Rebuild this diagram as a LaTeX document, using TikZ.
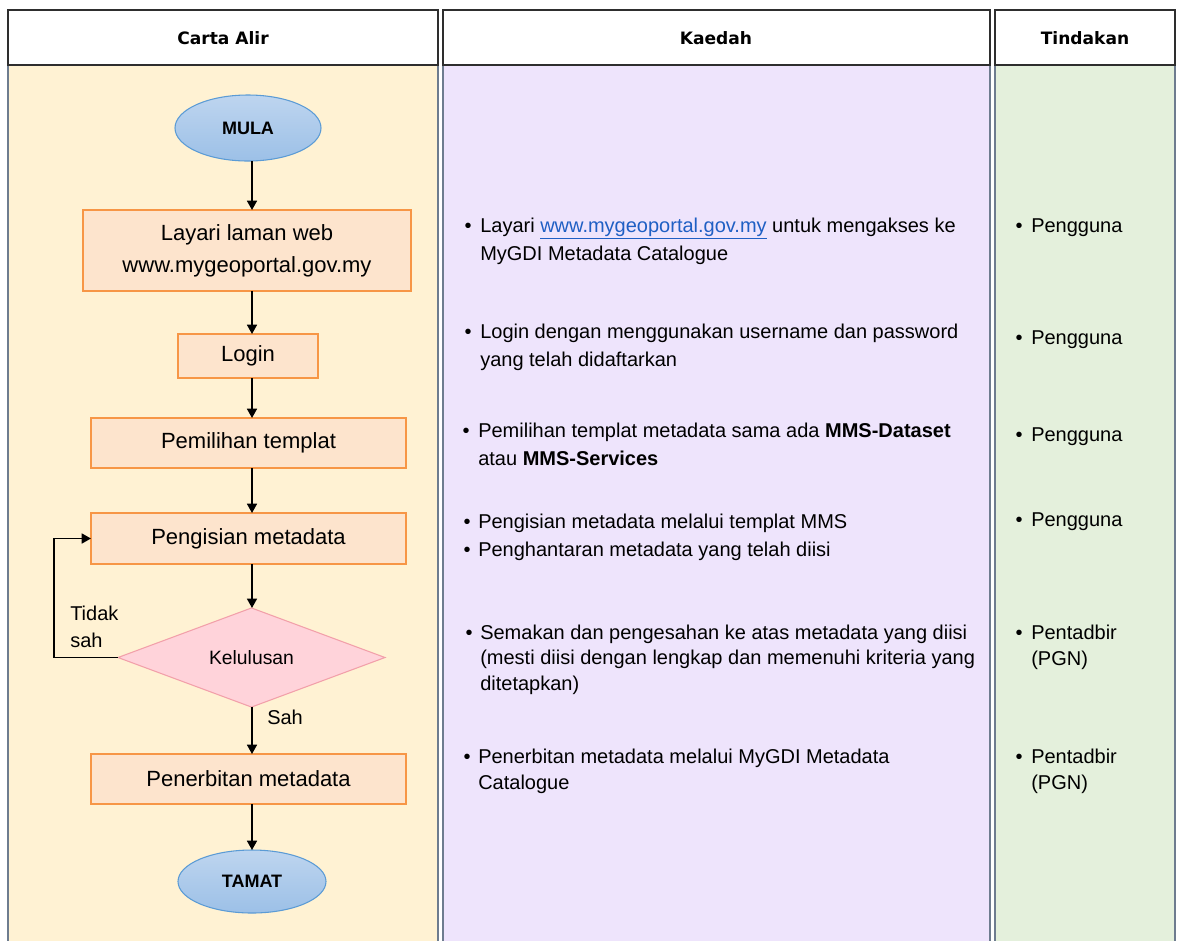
\documentclass[tikz,border=0pt]{standalone}
\usepackage{fontspec}
\setmainfont{Liberation Sans}
\newfontfamily\headfont{DejaVu Sans}
\usetikzlibrary{shapes.geometric,arrows.meta}
\definecolor{cream}{HTML}{FFF2D3}
\definecolor{lav}{HTML}{EEE4FC}
\definecolor{mint}{HTML}{E4F0DC}
\definecolor{colborder}{HTML}{6E7C8F}
\definecolor{headborder}{HTML}{2E2E2E}
\definecolor{peach}{HTML}{FDE4CD}
\definecolor{orangeb}{HTML}{F79646}
\definecolor{bluetop}{HTML}{BED5EF}
\definecolor{bluebot}{HTML}{9CC0E7}
\definecolor{blueb}{HTML}{5B9BD5}
\definecolor{pinkf}{HTML}{FFD3DA}
\definecolor{pinkb}{HTML}{F2A0AA}
\definecolor{linkblue}{HTML}{1F5FC4}
\tikzset{
  colbody/.style={draw=colborder, line width=1.2pt},
  headbox/.style={draw=headborder, fill=white, line width=1.4pt},
  headtext/.style={font=\headfont\bfseries\fontsize{12.8}{15}\selectfont},
  procbox/.style={rectangle, draw=orangeb, fill=peach, line width=1pt, inner sep=0pt, outer sep=0pt,
    align=center, font=\fontsize{16.5}{24}\selectfont},
  termnode/.style={ellipse, draw=blueb, line width=0.8pt, top color=bluetop, bottom color=bluebot,
    inner sep=0pt, outer sep=0pt, font=\bfseries\fontsize{13.5}{16}\selectfont},
  decnode/.style={diamond, draw=pinkb, fill=pinkf, line width=0.8pt, inner sep=0pt, outer sep=0pt,
    font=\fontsize{14.5}{17}\selectfont},
  flow/.style={line width=1.2pt, -{Triangle[length=7pt,width=7.5pt]}},
  bodytext/.style={anchor=base west, inner sep=0pt, font=\fontsize{15}{21}\selectfont},
  bul/.style={anchor=base, inner sep=0pt, font=\fontsize{15}{21}\selectfont},
  lbl/.style={anchor=base west, inner sep=0pt, font=\fontsize{15}{21}\selectfont},
}
\begin{document}
\begin{tikzpicture}[x=0.75pt,y=-0.75pt]
\useasboundingbox (0,0) rectangle (1180,940);
\clip (0,0) rectangle (1180,940);
\fill[white] (0,0) rectangle (1180,940);

% column bodies
\draw[colbody, fill=cream] (8,65) rectangle (438,960);
\draw[colbody, fill=lav] (443,65) rectangle (990,960);
\draw[colbody, fill=mint] (995,65) rectangle (1175,960);

% headers
\draw[headbox] (8,10) rectangle (438,65);
\draw[headbox] (443,10) rectangle (990,65);
\draw[headbox] (995,10) rectangle (1175,65);
\node[headtext] (h1) at (223,38) {Carta Alir};
\node[headtext] (h2) at (716,38) {Kaedah};
\node[headtext] (h3) at (1085,38) {Tindakan};

% flowchart
\node[termnode, minimum width=109.5pt, minimum height=49.5pt] (mula) at (248,128) {MULA};
\node[procbox, minimum width=246pt, minimum height=60.75pt] (layari) at (247,250.5) {Layari laman web\\www.mygeoportal.gov.my};
\node[procbox, minimum width=105pt, minimum height=33pt] (login) at (248,356) {Login};
\node[procbox, minimum width=236.25pt, minimum height=37.5pt] (pilih) at (248.5,443) {Pemilihan templat};
\node[procbox, minimum width=236.25pt, minimum height=38.25pt] (isi) at (248.5,538.5) {Pengisian metadata};
\node[decnode, minimum width=200.25pt, minimum height=74.25pt] (lulus) at (251.5,657.5) {Kelulusan};
\node[procbox, minimum width=236.25pt, minimum height=37.5pt] (terbit) at (248.5,779) {Penerbitan metadata};
\node[termnode, minimum width=111pt, minimum height=47.25pt] (tamat) at (252,881.5) {TAMAT};

\coordinate (ax) at (252,0);
\coordinate (lp) at (54,0);
\draw[flow] (mula.south -| ax) -- (layari.north -| ax);
\draw[flow] (layari.south -| ax) -- (login.north -| ax);
\draw[flow] (login.south -| ax) -- (pilih.north -| ax);
\draw[flow] (pilih.south -| ax) -- (isi.north -| ax);
\draw[flow] (isi.south -| ax) -- (lulus.north -| ax);
\draw[flow] (lulus.south -| ax) -- (terbit.north -| ax);
\draw[flow] (terbit.south -| ax) -- (tamat.north -| ax);
\draw[flow] (lulus.west) -- (lulus.west -| lp) -- (isi.west -| lp) -- (isi.west);

\node[lbl] (tidak1) at (70,620) {Tidak};
\node[lbl] (tidak2) at (70,647) {sah};
\node[lbl] (sah) at (267,724) {Sah};

% Kaedah
\node[bul] (b1) at (468,232) {•};
\node[bodytext] (k1a) at (480,232) {Layari \textcolor{linkblue}{\underline{www.mygeoportal.gov.my}} untuk mengakses ke};
\node[bodytext] (k1b) at (480,260) {MyGDI Metadata Catalogue};
\node[bul] (b2) at (468,338) {•};
\node[bodytext] (k2a) at (480,338) {Login dengan menggunakan username dan password};
\node[bodytext] (k2b) at (480,366) {yang telah didaftarkan};
\node[bul] (b3) at (466,437) {•};
\node[bodytext] (k3a) at (478,437) {Pemilihan templat metadata sama ada \textbf{MMS-Dataset}};
\node[bodytext] (k3b) at (478,465) {atau \textbf{MMS-Services}};
\node[bul] (b4) at (467,528) {•};
\node[bodytext] (k4a) at (478,528) {Pengisian metadata melalui templat MMS};
\node[bul] (b5) at (467,556) {•};
\node[bodytext] (k5a) at (478,556) {Penghantaran metadata yang telah diisi};
\node[bul] (b6) at (469,639) {•};
\node[bodytext] (k6a) at (480,639) {Semakan dan pengesahan ke atas metadata yang diisi};
\node[bodytext] (k6b) at (480,664) {(mesti diisi dengan lengkap dan memenuhi kriteria yang};
\node[bodytext] (k6c) at (480,690) {ditetapkan)};
\node[bul] (b7) at (467,763) {•};
\node[bodytext] (k7a) at (478,763) {Penerbitan metadata melalui MyGDI Metadata};
\node[bodytext] (k7b) at (478,789) {Catalogue};

% Tindakan
\node[bul] (t1b) at (1019,232) {•};
\node[bodytext] (t1) at (1031,232) {Pengguna};
\node[bul] (t2b) at (1019,344) {•};
\node[bodytext] (t2) at (1031,344) {Pengguna};
\node[bul] (t3b) at (1019,441) {•};
\node[bodytext] (t3) at (1031,441) {Pengguna};
\node[bul] (t4b) at (1019,526) {•};
\node[bodytext] (t4) at (1031,526) {Pengguna};
\node[bul] (t5b) at (1019,639) {•};
\node[bodytext] (t5) at (1031,639) {Pentadbir};
\node[bodytext] (t5c) at (1031,665) {(PGN)};
\node[bul] (t6b) at (1019,763) {•};
\node[bodytext] (t6) at (1031,763) {Pentadbir};
\node[bodytext] (t6c) at (1031,789) {(PGN)};
\end{tikzpicture}
\end{document}
